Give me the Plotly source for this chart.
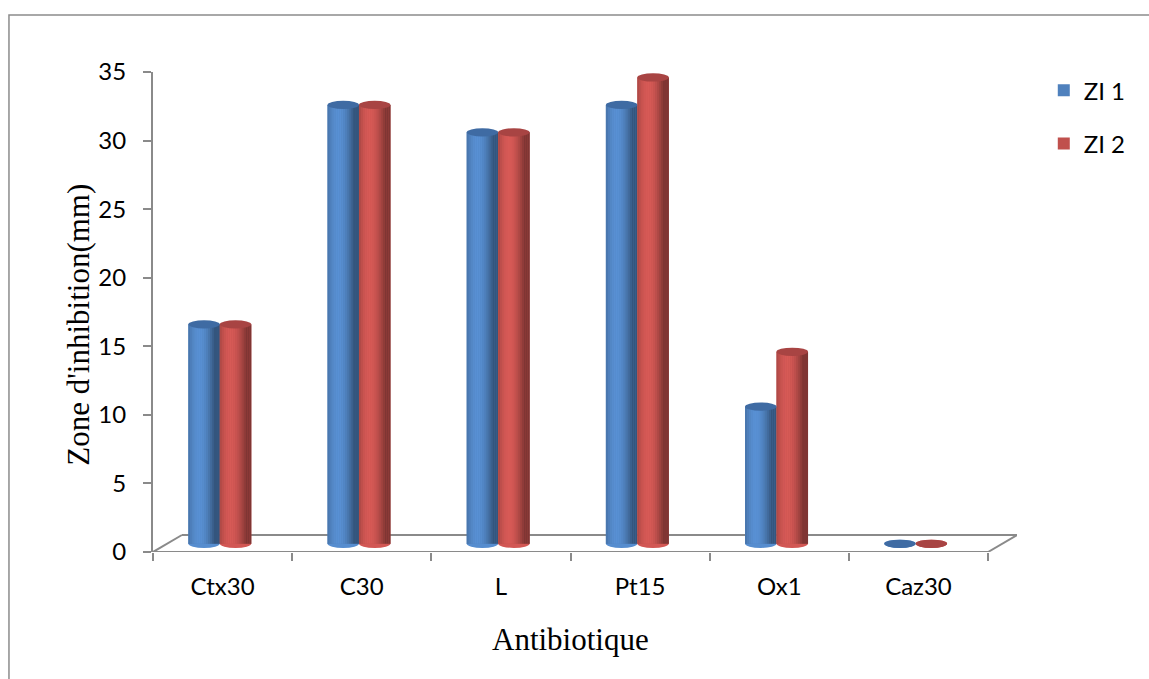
import math
import plotly.graph_objects as go

# ---- data ----
categories = ["Ctx30", "C30", "L", "Pt15", "Ox1", "Caz30"]
zi1 = [16, 32, 30, 32, 10, 0]
zi2 = [16, 32, 30, 34, 14, 0]
series_names = ["ZI 1", "ZI 2"]
y_ticks = [0, 5, 10, 15, 20, 25, 30, 35]

# ---- style ----
BASE_COLORS = [(79, 129, 189), (192, 80, 77)]
CAP_COLORS = ["#3F6BA3", "#A84443"]
BAR_W = 0.226
PAIR_SHIFT = -0.02
DEPTH = 0.6          # pseudo 3D: cylinders stand in the middle of the floor
FLOOR_DEPTH = 1.24
FLOOR_DX = 0.208
CAP_H = 0.6
N_STRIPS = 16
GREY = "#8A8A8A"


def shade(rgb, t):
    theta = (t - 0.5) * math.pi
    k = 0.66 + 0.46 * max(math.cos(theta + 0.5), 0.0)
    r, g, b = (min(255, int(round(c * k))) for c in rgb)
    return f"rgb({r},{g},{b})"


fig = go.Figure()
shapes = []

for s, vals in enumerate([zi1, zi2]):
    off0 = -BAR_W + s * BAR_W + PAIR_SHIFT
    base_rgb = BASE_COLORS[s]
    # full bar in base colour (legend entry)
    fig.add_trace(go.Bar(
        x=categories, y=vals, base=DEPTH, offset=off0, width=BAR_W,
        name=series_names[s], legendgroup=series_names[s],
        marker=dict(color="rgb(%d,%d,%d)" % base_rgb, line=dict(width=0)),
        hovertemplate="%{x}: %{y}<extra>" + series_names[s] + "</extra>",
    ))
    # shading strips that make the cylinder look
    sw = BAR_W / N_STRIPS
    for k in range(N_STRIPS):
        t = (k + 0.5) / N_STRIPS
        fig.add_trace(go.Bar(
            x=categories, y=vals, base=DEPTH, offset=off0 + k * sw, width=sw * 1.05,
            marker=dict(color=shade(base_rgb, t), line=dict(width=0)),
            showlegend=False, legendgroup=series_names[s], hoverinfo="skip",
        ))
    # caps (top and bottom ellipses)
    for i, v in enumerate(vals):
        cx = i + off0 + BAR_W / 2
        shapes.append(dict(
            type="circle", xref="x", yref="y", layer="below",
            x0=cx - BAR_W / 2, x1=cx + BAR_W / 2,
            y0=DEPTH - CAP_H / 2, y1=DEPTH + CAP_H / 2,
            fillcolor=shade(base_rgb, 0.45), line=dict(width=0),
        ))
        shapes.append(dict(
            type="circle", xref="x", yref="y", layer="above",
            x0=cx - BAR_W / 2, x1=cx + BAR_W / 2,
            y0=v + DEPTH - CAP_H / 2, y1=v + DEPTH + CAP_H / 2,
            fillcolor=CAP_COLORS[s], line=dict(width=0),
        ))

# floor outline
n = len(categories)
left, right = -0.5, n - 0.5
floor_lines = [
    (left, 0, right, 0),
    (left, 0, left + FLOOR_DX, FLOOR_DEPTH),
    (left + FLOOR_DX, FLOOR_DEPTH, right + FLOOR_DX, FLOOR_DEPTH),
    (right, 0, right + FLOOR_DX, FLOOR_DEPTH),
]
for x0, y0, x1, y1 in floor_lines:
    shapes.append(dict(type="line", xref="x", yref="y", layer="below",
                       x0=x0, y0=y0, x1=x1, y1=y1,
                       line=dict(color=GREY, width=2)))

# outer chart border (extends past the window on right/bottom)
shapes.append(dict(type="rect", xref="paper", yref="paper",
                   x0=-0.1667, x1=1.5, y0=-0.6, y1=1.119,
                   line=dict(color="#8C8C8C", width=1.5), fillcolor="rgba(0,0,0,0)"))

fig.update_layout(
    width=1149, height=679,
    margin=dict(l=153, r=132, t=72, b=127),
    paper_bgcolor="white", plot_bgcolor="white",
    barmode="overlay",
    font=dict(family="Lato, Roboto, sans-serif", size=24, color="#000000"),
    shapes=shapes,
    showlegend=True,
    legend=dict(x=1.031, y=1.008, xanchor="left", yanchor="top",
                font=dict(size=24), tracegroupgap=19,
                bgcolor="rgba(0,0,0,0)", itemwidth=30),
    xaxis=dict(
        type="category", categoryorder="array", categoryarray=categories,
        range=[-0.5, n - 0.5 + FLOOR_DX],
        tickson="boundaries", ticks="outside", ticklen=8, tickcolor=GREY, tickwidth=2,
        showline=False, showgrid=False, zeroline=False,
        ticklabelstandoff=18,
    ),
    yaxis=dict(
        range=[0, 35], tickvals=y_ticks, ticks="outside", ticklen=8,
        tickcolor=GREY, tickwidth=2, showline=True, linecolor=GREY, linewidth=2,
        showgrid=False, zeroline=False, ticklabelstandoff=12,
    ),
    annotations=[
        dict(text="Antibiotique", xref="x", yref="paper", x=2.5, y=-0.183,
             xanchor="center", yanchor="middle", showarrow=False,
             font=dict(family="Liberation Serif, Times New Roman, serif", size=31)),
        dict(text="Zone d'inhibition(mm)", xref="paper", yref="paper",
             x=-0.086, y=0.473, xanchor="center", yanchor="middle",
             textangle=-90, showarrow=False,
             font=dict(family="Liberation Serif, Times New Roman, serif", size=31)),
    ],
)

fig.write_html("out.html")
